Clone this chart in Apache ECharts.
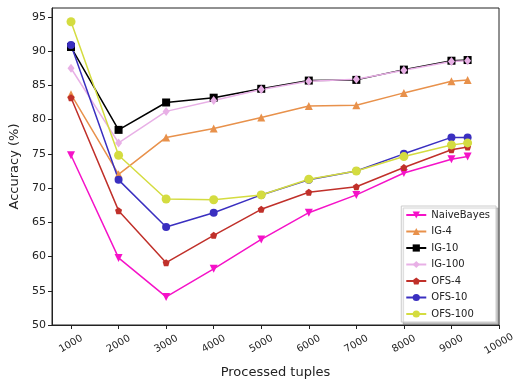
<!DOCTYPE html>
<html><head><meta charset="utf-8">
<script src="https://cdn.jsdelivr.net/npm/echarts@6/dist/echarts.min.js"></script>
<style>html,body{margin:0;padding:0;background:#fff}#c{width:516px;height:382px}</style>
</head><body><div id="c"></div>
<script>
const xValues = [1000, 2000, 3000, 4000, 5000, 6000, 7000, 8000, 9000, 9340];
const xTicks = [1000, 2000, 3000, 4000, 5000, 6000, 7000, 8000, 9000, 10000];
const yTicks = [50, 55, 60, 65, 70, 75, 80, 85, 90, 95];
const naiveBayes = [74.8, 59.8, 54.1, 58.2, 62.5, 66.4, 69.0, 72.2, 74.2, 74.6];
const ig4 = [83.7, 72.0, 77.4, 78.7, 80.3, 82.0, 82.1, 83.9, 85.6, 85.8];
const ig10 = [90.6, 78.5, 82.5, 83.2, 84.5, 85.7, 85.8, 87.3, 88.6, 88.7];
const ig100 = [87.5, 76.6, 81.2, 82.8, 84.4, 85.6, 85.9, 87.2, 88.5, 88.6];
const ofs4 = [83.2, 66.7, 59.1, 63.1, 66.9, 69.4, 70.2, 73.0, 75.6, 76.0];
const ofs10 = [90.9, 71.2, 64.3, 66.4, 69.0, 71.2, 72.5, 75.0, 77.4, 77.4];
const ofs100 = [94.3, 74.8, 68.4, 68.3, 69.0, 71.3, 72.5, 74.6, 76.3, 76.6];
const names = ['NaiveBayes','IG-4','IG-10','IG-100','OFS-4','OFS-10','OFS-100'];
const allData = [naiveBayes, ig4, ig10, ig100, ofs4, ofs10, ofs100];
const colors = ['#f512c8','#e8914b','#000000','#e8b0e6','#c0302a','#3a2fc0','#d4dc40'];
const symbols = ['path://M0,0 L10,0 L5,9 Z','triangle','rect','diamond','path://M5,0 L10,3.8 L8.1,10 L1.9,10 L0,3.8 Z','circle','circle'];
const sizes = [8,8,8,[7,9],7,8,9];

const chart = echarts.init(document.getElementById('c'));
chart.setOption({
  animation:false,
  backgroundColor:'#fff',
  grid:{left:52,right:17,top:8,bottom:57,show:true,borderColor:'#222',borderWidth:1,outerBoundsMode:'none',containLabel:false},
  xAxis:{type:'value',min:600,max:10000,
    name:'Processed tuples',nameLocation:'middle',nameGap:41,
    nameTextStyle:{fontSize:13,color:'#222',fontFamily:'DejaVu Sans'},
    axisLine:{show:true,lineStyle:{color:'#222'}},
    axisTick:{show:true,length:4,lineStyle:{color:'#222'},customValues:xTicks},
    axisLabel:{rotate:30,fontSize:10,color:'#222',fontFamily:'DejaVu Sans',margin:19,
      align:'center',verticalAlign:'middle',customValues:xTicks,formatter:v=>String(v)},
    splitLine:{show:false}},
  yAxis:{type:'value',min:50,max:96.3,
    name:'Accuracy (%)',nameLocation:'middle',nameGap:28,
    nameTextStyle:{fontSize:13,color:'#222',fontFamily:'DejaVu Sans'},
    axisLine:{show:true,lineStyle:{color:'#222'}},
    axisTick:{show:true,length:4,lineStyle:{color:'#222'},customValues:yTicks},
    axisLabel:{fontSize:11,color:'#222',fontFamily:'DejaVu Sans',margin:6,customValues:yTicks},
    splitLine:{show:false}},
  legend:{right:20,bottom:60,orient:'vertical',itemWidth:20,itemHeight:9,itemGap:6.5,
    backgroundColor:'#fff',borderColor:'#ccc',borderWidth:1,padding:[4,6,3,4],
    shadowColor:'rgba(0,0,0,0.2)',shadowBlur:1,shadowOffsetX:2,shadowOffsetY:2,
    textStyle:{fontSize:10,color:'#222',fontFamily:'DejaVu Sans'},data:names},
  series: names.map((n,i)=>({
    name:n,type:'line',
    data:xValues.map((x,j)=>[x,allData[i][j]]),
    symbol:symbols[i],symbolSize:sizes[i],
    lineStyle:{width:1.5,color:colors[i]},
    itemStyle:{color:colors[i]},
    showAllSymbol:true
  }))
});
</script></body></html>
